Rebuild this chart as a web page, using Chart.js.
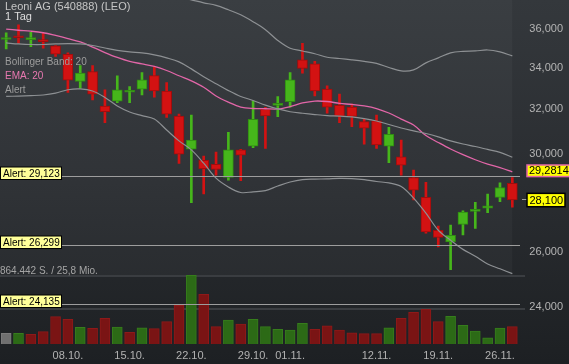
<!DOCTYPE html>
<html>
<head>
<meta charset="utf-8">
<title>Leoni AG</title>
<script src="https://cdn.jsdelivr.net/npm/chart.js@4.4.1/dist/chart.umd.min.js"></script>
<style>
  html, body { margin: 0; padding: 0; background: #1f2225; }
  canvas { display: block; }
</style>
</head>
<body>
<canvas id="leoChart" width="569" height="364"></canvas>
<script>
// Handelstage (Tageskerzen)
const dates = ['01.10.','02.10.','03.10.','04.10.','05.10.','08.10.','09.10.','10.10.','11.10.','12.10.',
  '15.10.','16.10.','17.10.','18.10.','19.10.','22.10.','23.10.','24.10.','25.10.','26.10.',
  '29.10.','30.10.','31.10.','01.11.','02.11.','05.11.','06.11.','07.11.','08.11.','09.11.',
  '12.11.','13.11.','14.11.','15.11.','16.11.','19.11.','20.11.','21.11.','22.11.','23.11.',
  '26.11.','27.11.'];
const tickLabels = ['08.10.','15.10.','22.10.','29.10.','01.11.','12.11.','19.11.','26.11.'];

const opens  = [35.51,35.64,35.50,35.44,35.18,34.75,33.40,33.89,32.23,32.46,32.88,33.03,33.69,32.94,31.76,30.26,29.77,29.60,29.04,30.23,30.40,32.07,32.26,32.43,34.47,34.27,33.03,32.26,32.18,31.50,31.54,30.40,29.93,29.04,28.21,26.89,26.44,27.12,27.64,27.77,28.21,28.79];
const highs  = [35.86,36.28,35.88,35.83,35.20,34.82,34.18,34.18,33.00,33.68,33.15,33.84,34.10,33.35,31.85,31.81,29.96,30.14,31.02,30.26,32.46,32.17,32.67,33.84,35.31,34.40,33.19,32.79,32.32,31.61,31.81,31.24,30.67,29.35,28.83,27.05,27.09,27.66,28.01,28.35,28.81,29.04];
const lows   = [35.02,35.31,35.14,35.06,34.64,32.87,33.08,32.51,31.45,32.38,32.38,32.75,32.64,31.70,29.64,27.99,28.35,29.14,28.93,28.90,30.33,30.30,31.73,32.17,33.81,32.71,31.89,31.45,31.27,30.48,30.30,29.67,29.14,28.10,26.78,26.24,25.39,26.71,26.96,27.59,28.03,27.81];
const closes = [35.54,35.60,35.53,35.40,34.76,33.46,33.81,32.79,31.96,33.00,32.90,33.48,32.94,31.85,30.04,30.67,29.41,29.38,30.23,30.00,31.61,31.76,32.31,33.48,34.04,32.95,32.17,31.75,31.74,31.20,30.45,30.93,29.57,28.51,26.82,26.61,26.69,27.61,27.66,27.86,28.62,28.10];
const volumes = [135000,134000,122000,155000,344000,311000,210000,198000,323000,214000,147000,205000,193000,281000,487000,864442,625000,218000,302000,252000,311000,218000,185000,176000,260000,185000,230000,176000,142000,130000,130000,205000,323000,399000,437000,281000,349000,235000,164000,79000,201000,218000];

// Indikatoren
const bbUpper = [38.30,38.20,38.10,38.10,38.05,38.00,38.00,38.00,38.05,38.05,38.00,37.95,37.90,37.85,37.78,37.62,37.46,37.32,37.08,36.81,36.44,36.02,35.46,35.06,34.92,34.78,34.60,34.54,34.47,34.39,34.29,34.09,33.92,33.97,34.32,34.57,34.82,34.90,34.92,34.97,34.87,34.67];
const bbMid   = [35.33,35.28,35.25,35.25,35.28,35.30,35.28,35.20,35.07,34.95,34.87,34.82,34.72,34.57,34.37,34.02,33.63,33.29,32.96,32.68,32.49,32.27,32.09,31.96,31.89,31.83,31.78,31.76,31.72,31.64,31.53,31.37,31.21,31.08,30.96,30.81,30.63,30.49,30.38,30.25,30.12,29.91];
const bbLower = [32.68,32.70,32.72,32.75,32.84,33.00,33.04,32.94,32.63,32.23,31.95,31.78,31.62,31.12,30.63,30.23,29.65,29.01,28.64,28.41,28.44,28.49,28.68,28.85,28.95,28.97,28.98,29.00,28.99,28.95,28.87,28.81,28.66,28.18,27.57,26.89,26.50,26.15,25.89,25.60,25.42,25.24];
const ema20   = [36.05,35.99,35.94,35.86,35.72,35.56,35.38,35.12,34.84,34.59,34.39,34.27,34.14,33.94,33.68,33.43,33.12,32.70,32.41,32.18,32.11,32.10,32.09,32.20,32.37,32.46,32.44,32.35,32.30,32.23,32.11,31.90,31.62,31.35,30.87,30.56,30.27,30.02,29.80,29.61,29.46,29.2814];

const alerts = [29.123, 26.299, 24.135];
const priceTicks = [24, 26, 28, 30, 32, 34, 36];
const volumeLabel = '864.442 S. / 25,8 Mio.';

const FONT = '"Liberation Sans", Arial, sans-serif';
const UP = '#46b61b', UP_BORDER = '#2f8c12';
const DOWN = '#d31212', DOWN_BORDER = '#a00d0d';

function fmt(v, d) {
    return v.toFixed(d).replace('.', ',');
}

const isUp = closes.map((c, i) => c >= opens[i]);
const volDir = volumes.map((v, i) => i === 0 ? 0 : (closes[i] >= closes[i - 1] ? 1 : -1));

// Hintergrund, Trennlinien, Alarme und Beschriftungen
const chartDecor = {
    id: 'chartDecor',
    beforeDraw(chart) {
        const { ctx, width, height, scales } = chart;
        ctx.save();
        const grad = ctx.createLinearGradient(0, 0, 0, height);
        grad.addColorStop(0, '#34383c');
        grad.addColorStop(0.5, '#2a2d31');
        grad.addColorStop(1, '#1d2023');
        ctx.fillStyle = grad;
        ctx.fillRect(0, 0, width, height);

        const lastX = scales.x.getPixelForValue(dates.length - 1);
        const volTop = Math.round(scales.vol.getPixelForValue(Math.max(...volumes)));
        ctx.fillStyle = 'rgba(255,255,255,0.03)';
        ctx.fillRect(0, 0, lastX, volTop);

        ctx.fillStyle = '#3a3d41';
        ctx.fillRect(0, volTop, 525, 2);
        ctx.fillRect(0, 308, 525, 2);
        ctx.restore();
    },
    afterDatasetsDraw(chart) {
        const { ctx, scales } = chart;
        ctx.save();
        ctx.font = '10px ' + FONT;
        ctx.textAlign = 'left';
        ctx.textBaseline = 'alphabetic';
        alerts.forEach(a => {
            const y = Math.round(scales.y.getPixelForValue(a)) + 0.5;
            ctx.strokeStyle = '#9d9d9d';
            ctx.lineWidth = 1;
            ctx.beginPath();
            ctx.moveTo(0, y);
            ctx.lineTo(520, y);
            ctx.stroke();
            ctx.fillStyle = '#ffff99';
            ctx.fillRect(0.5, y - 9.5, 61, 12.5);
            ctx.strokeStyle = '#000';
            ctx.strokeRect(0.5, y - 9.5, 61, 12.5);
            ctx.fillStyle = '#000';
            ctx.fillText('Alert: ' + fmt(a, 3), 3, y);
        });
        ctx.restore();
    },
    afterDraw(chart) {
        const { ctx, scales } = chart;
        ctx.save();

        // Kursachse rechts
        ctx.font = '11px ' + FONT;
        ctx.textAlign = 'right';
        ctx.textBaseline = 'middle';
        ctx.fillStyle = '#b4b4b4';
        priceTicks.forEach(t => {
            ctx.fillText(fmt(t, 3), 563, scales.y.getPixelForValue(t) - 1.5);
        });

        // EMA-Wert
        const emaLast = ema20[ema20.length - 1];
        const yE = scales.y.getPixelForValue(emaLast) - 1;
        ctx.fillStyle = '#ffff00';
        ctx.fillRect(527, yE - 5.8, 43, 11.6);
        ctx.strokeStyle = '#e266a8';
        ctx.lineWidth = 1.5;
        ctx.strokeRect(527, yE - 5.8, 43, 11.6);
        ctx.fillStyle = '#000';
        ctx.textAlign = 'left';
        ctx.fillText(fmt(emaLast, 4), 529, yE + 0.5);

        // Letzter Kurs
        const lastClose = closes[closes.length - 1];
        const yC = scales.y.getPixelForValue(lastClose);
        ctx.strokeStyle = '#9d9d9d';
        ctx.lineWidth = 1;
        ctx.beginPath();
        ctx.moveTo(522, Math.round(yC) - 0.5);
        ctx.lineTo(527, Math.round(yC) - 0.5);
        ctx.stroke();
        ctx.fillStyle = '#ffff00';
        ctx.fillRect(527, yC - 6.7, 38, 13.4);
        ctx.strokeStyle = '#000';
        ctx.lineWidth = 1.5;
        ctx.strokeRect(527, yC - 6.7, 38, 13.4);
        ctx.fillStyle = '#000';
        ctx.fillText(fmt(lastClose, 3), 529.5, yC + 0.5);

        // Datumsachse
        ctx.font = '11px ' + FONT;
        ctx.textAlign = 'center';
        ctx.textBaseline = 'alphabetic';
        ctx.fillStyle = '#b2b2b2';
        tickLabels.forEach(lbl => {
            ctx.fillText(lbl, scales.x.getPixelForValue(dates.indexOf(lbl)), 359);
        });

        // Titel und Legende
        ctx.textAlign = 'left';
        ctx.fillStyle = '#c6c6c6';
        ctx.fillText('Leoni AG (540888) (LEO)', 5, 10);
        ctx.fillStyle = '#dedede';
        ctx.fillText('1 Tag', 5, 20);
        ctx.font = '10px ' + FONT;
        ctx.fillStyle = '#9c9c9c';
        ctx.fillText('Bollinger Band: 20', 5, 65);
        ctx.fillStyle = '#e878b0';
        ctx.fillText('EMA: 20', 5, 78.5);
        ctx.fillStyle = '#9c9c9c';
        ctx.fillText('Alert', 5, 92.5);
        ctx.fillStyle = '#a5a5a5';
        ctx.fillText(volumeLabel, 0, 274);

        ctx.restore();
    }
};

const lineStyle = { type: 'line', yAxisID: 'y', pointRadius: 0, borderWidth: 1.2, tension: 0.35, fill: false, order: 0 };

new Chart(document.getElementById('leoChart').getContext('2d'), {
    type: 'bar',
    data: {
        labels: dates,
        datasets: [
            { ...lineStyle, label: 'BB oben', data: bbUpper, borderColor: '#8d9093' },
            { ...lineStyle, label: 'BB Mitte', data: bbMid, borderColor: '#8d9093' },
            { ...lineStyle, label: 'BB unten', data: bbLower, borderColor: '#8d9093' },
            { ...lineStyle, label: 'EMA 20', data: ema20, borderColor: '#e266a8', borderWidth: 1.3 },
            {
                label: 'Kerzen',
                yAxisID: 'y',
                data: dates.map((d, i) => [opens[i], closes[i]]),
                backgroundColor: isUp.map(u => u ? UP : DOWN),
                borderColor: isUp.map(u => u ? UP_BORDER : DOWN_BORDER),
                borderWidth: 1,
                borderSkipped: false,
                barThickness: 10,
                minBarLength: 2,
                grouped: false,
                order: 1
            },
            {
                label: 'Dochte',
                yAxisID: 'y',
                data: dates.map((d, i) => [lows[i], highs[i]]),
                backgroundColor: isUp.map(u => u ? UP : DOWN),
                barThickness: 2,
                grouped: false,
                order: 2
            },
            {
                label: 'Volumen',
                yAxisID: 'vol',
                data: volumes,
                backgroundColor: volDir.map(d => d === 0 ? '#6f6f6f' : (d > 0 ? '#2c6a16' : '#7a1414')),
                borderColor: volDir.map(d => d === 0 ? '#7c7c7c' : (d > 0 ? '#367d1c' : '#8e1919')),
                borderWidth: 1,
                barThickness: 10,
                grouped: false,
                order: 3
            }
        ]
    },
    options: {
        responsive: false,
        animation: false,
        devicePixelRatio: 1,
        layout: { padding: { left: 0, right: 50.5, top: 0, bottom: 20 } },
        plugins: { legend: { display: false }, tooltip: { enabled: false } },
        scales: {
            x: { type: 'category', display: false, offset: true },
            y: { type: 'logarithmic', display: false, bounds: 'data', min: 22.781, max: 37.613 },
            vol: { axis: 'y', type: 'linear', display: false, bounds: 'data', min: 0, max: 4330000 }
        }
    },
    plugins: [chartDecor]
});
</script>
</body>
</html>
